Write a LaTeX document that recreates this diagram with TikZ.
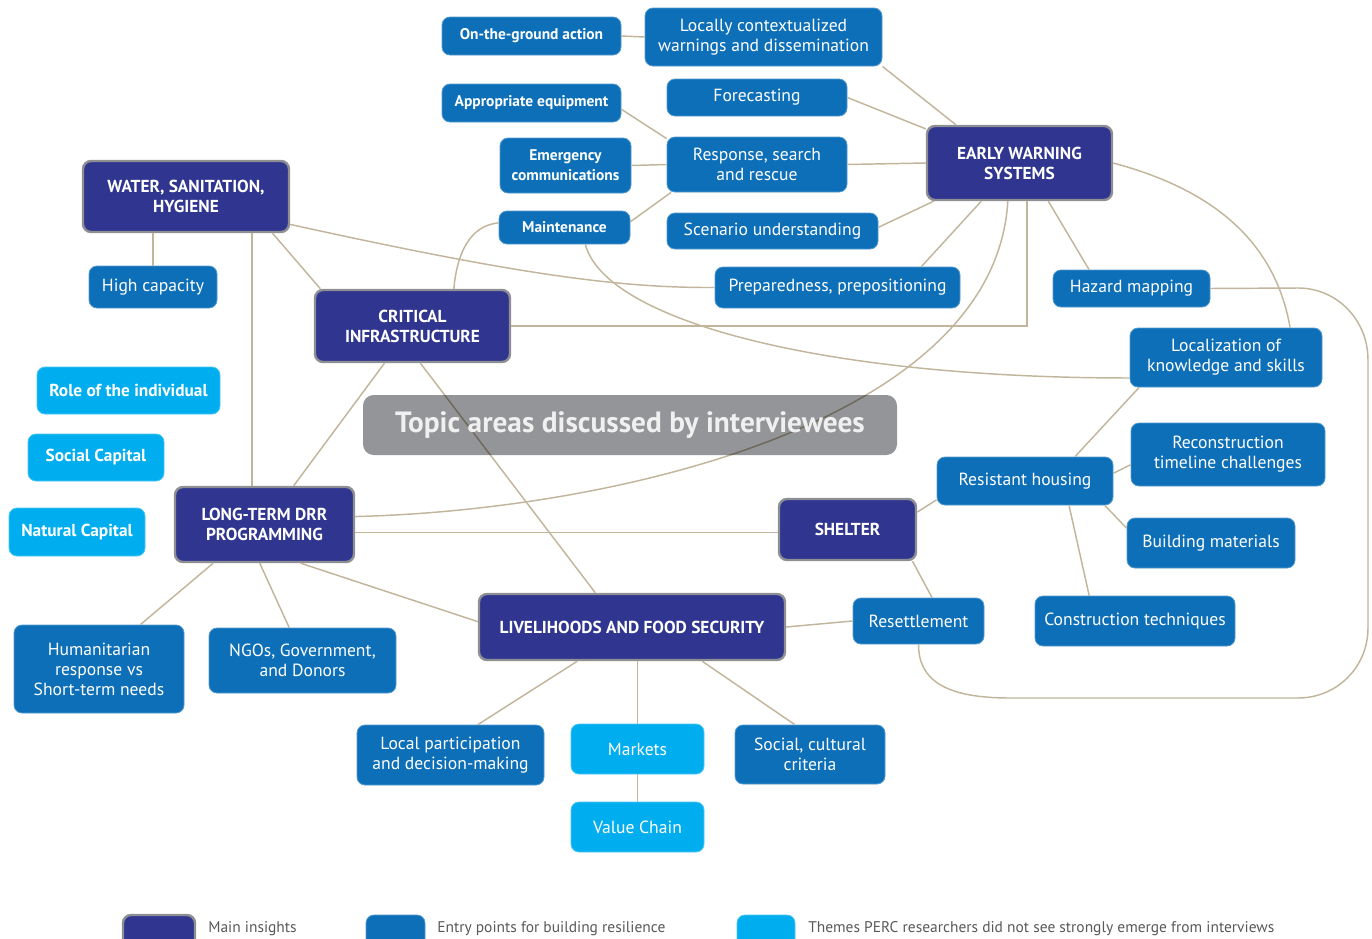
\documentclass[tikz,border=0pt]{standalone}
\usepackage{fontspec}
\setmainfont{PT Sans}
\usepackage{xcolor}
\usepackage{tikz}

\definecolor{navy}{HTML}{303690}
\definecolor{entryblue}{HTML}{0C6FB8}
\definecolor{themecyan}{HTML}{00AEEF}
\definecolor{rimgray}{HTML}{8E8F93}
\definecolor{tan}{HTML}{C2B59B}
\definecolor{titlegray}{HTML}{939598}
\definecolor{legendgray}{HTML}{58595B}

\begin{document}
\begin{tikzpicture}
[
x=0.75pt,y=-0.75pt,
main/.style 2 args={draw=rimgray,line width=1.8pt,fill=navy,rounded corners=6pt,
            text=white,align=center,inner sep=0pt,
            minimum width=#1*0.75pt,minimum height=#2*0.75pt,
            font=\fontsize{13}{15}\selectfont\bfseries},
entry/.style 2 args={draw=entryblue!70!white,line width=0.6pt,fill=entryblue,rounded corners=6pt,
            text=white,align=center,inner sep=0pt,
            minimum width=#1*0.75pt,minimum height=#2*0.75pt,
            font=\fontsize{13.2}{15}\selectfont},
small/.style={font=\fontsize{11.6}{15}\selectfont\bfseries},
theme/.style 2 args={entry={#1}{#2},draw=themecyan!70!white,fill=themecyan},
large/.style={font=\fontsize{13}{15}\selectfont\bfseries},
link/.style={draw=tan,line width=1.1pt},
keytext/.style={text=legendgray,anchor=west,inner sep=0pt,font=\fontsize{11.6}{12}\selectfont},
]
\path[use as bounding box] (0,0) rectangle (1372,939);
\clip (0,0) rectangle (1372,939);

%Place the nodes
%main insights
\node[main={206}{71}] (wsh) at (186,196.5) {WATER, SANITATION,\\HYGIENE};
\node[main={185}{74}] (ews) at (1019.5,163) {EARLY WARNING\\SYSTEMS};
\node[main={195}{72}] (ci) at (412.5,326) {CRITICAL\\INFRASTRUCTURE};
\node[main={179}{75}] (drr) at (264.5,524.5) {LONG-TERM DRR\\PROGRAMMING};
\node[main={137}{61}] (shelter) at (847.5,529.5) {SHELTER};
\node[main={306}{66}] (lfs) at (632,627) {LIVELIHOODS AND FOOD SECURITY};

%entry points
\node[entry={179}{38},small] (ground) at (531.5,36) {On-the-ground action};
\node[entry={237}{58}] (warn) at (763.5,37) {Locally contextualized\\warnings and dissemination};
\node[entry={179}{38},small] (equip) at (531.5,103) {Appropriate equipment};
\node[entry={180}{37}] (fore) at (757,97.5) {Forecasting};
\node[entry={131}{55},small] (comm) at (565.5,165.5) {Emergency\\communications};
\node[entry={180}{55}] (resc) at (757,164.5) {Response, search\\and rescue};
\node[entry={131}{33},small] (maint) at (564.5,227.5) {Maintenance};
\node[entry={211}{36}] (scen) at (772.5,231) {Scenario understanding};
\node[entry={245}{41}] (prep) at (837.5,287.5) {Preparedness, prepositioning};
\node[entry={157}{37}] (haz) at (1131.5,288.5) {Hazard mapping};
\node[entry={192}{59}] (know) at (1226,357.5) {Localization of\\knowledge and skills};
\node[entry={128}{42}] (cap) at (153,287) {High capacity};
\node[entry={194}{63}] (recon) at (1228,454.5) {Reconstruction\\timeline challenges};
\node[entry={176}{48}] (house) at (1025,481) {Resistant housing};
\node[entry={168}{50}] (mat) at (1211,543) {Building materials};
\node[entry={131}{46}] (settle) at (918.5,621) {Resettlement};
\node[entry={200}{50}] (tech) at (1135,621) {Construction techniques};
\node[entry={170}{88}] (hum) at (99,669) {Humanitarian\\response vs\\Short-term needs};
\node[entry={187}{65}] (ngo) at (302.5,660.5) {NGOs, Government,\\and Donors};
\node[entry={187}{60}] (part) at (450.5,755) {Local participation\\and decision-making};
\node[entry={150}{59}] (soc) at (810,754.5) {Social, cultural\\criteria};

%themes
\node[theme={183}{47},large] (role) at (128.5,390.5) {Role of the individual};
\node[theme={136}{47},large] (social) at (96,457.5) {Social Capital};
\node[theme={136}{48},large] (nat) at (77,532) {Natural Capital};
\node[theme={133}{50}] (mkt) at (637.5,749) {Markets};
\node[theme={133}{50}] (chain) at (637.5,827) {Value Chain};

%connections
%early warning systems
\draw[link] (ground.east) -- (warn.west);
\draw[link] (warn.south east) -- (ews.149);
\draw[link] (fore.east) -- (ews.160);
\draw[link] (resc.east) -- (ews.west);
\draw[link] (scen.2) -- (ews.204);
\draw[link] (prep.14) -- (ews.225);
\draw[link] (haz.156) -- (ews.-53);
\draw[link] (ews.east) to[out=-15,in=100] (know.25);
\draw[link] (ews.-79) |- (ci.east);
\draw[link] (ews.-107) .. controls (995,420) and (620,510) .. (drr.5);
%response, search and rescue
\draw[link] (equip.-4) -- (resc.164);
\draw[link] (comm.east) -- (resc.west);
\draw[link] (maint.5) -- (resc.198);
%maintenance
\draw[link] (maint.176) to[out=185,in=85] (ci.42);
\draw[link] (maint.-39) .. controls (605,320) and (820,378) .. (know.192);
%water, sanitation, hygiene
\draw[link] (cap.north |- wsh.south) -- (cap.north);
\draw[link] (wsh.-29) -- (wsh.-29 |- drr.north);
\draw[link] (wsh.-23) -- (ci.158);
\draw[link] (wsh.-15) .. controls (520,275) and (620,288) .. (prep.west);
%critical infrastructure
\draw[link] (ci.233) -- (drr.53);
\draw[link] (ci.-78) -- (lfs.137);
%long-term drr
\draw[link] (drr.-5) -- (drr.-5 -| shelter.west);
\draw[link] (drr.217) -- (hum.47);
\draw[link] (drr.263) -- (ngo.112);
\draw[link] (drr.-47) -- (lfs.178);
%shelter
\draw[link] (shelter.14) -- (house.192);
\draw[link] (shelter.-26) -- (settle.60);
\draw[link] (lfs.east) -- (settle.west);
\draw[link] (house.26) -- (know.199);
\draw[link] (house.5) -- (recon.186);
\draw[link] (house.-17) -- (mat.170);
\draw[link] (house.-29) -- (tech.151);
\draw[link] (haz.east) -- (1298,288) .. controls (1337,288) and (1368,320) .. (1368,360)
      -- (1368,628) .. controls (1368,667) and (1337,698) .. (1298,698)
      -- (1010,698) .. controls (945,698) and (918.5,680) .. (settle.south);
%livelihoods
\draw[link] (lfs.212) -- (part.48);
\draw[link] (mkt.north |- lfs.south) -- (mkt.north);
\draw[link] (lfs.-26) -- (soc.117);
\draw[link] (mkt) -- (chain);

%title
\fill[titlegray,rounded corners=8pt,blend mode=multiply] (363,395) rectangle (897,455);
\node[text=white!94!black,font=\fontsize{22}{24}\selectfont\bfseries] (title) at (630,425) {Topic areas discussed by interviewees};

%key
\node[main={72}{32}] (keymain) at (159,931) {};
\node[entry={59}{32}] (keyentry) at (395.5,931) {};
\node[theme={58}{32}] (keytheme) at (766,931) {};
\node[keytext] (keymaintext) at (208,929) {Main insights};
\node[keytext] (keyentrytext) at (437,929) {Entry points for building resilience};
\node[keytext] (keythemetext) at (808,929) {Themes PERC researchers did not see strongly emerge from interviews};
\end{tikzpicture}
\end{document}
